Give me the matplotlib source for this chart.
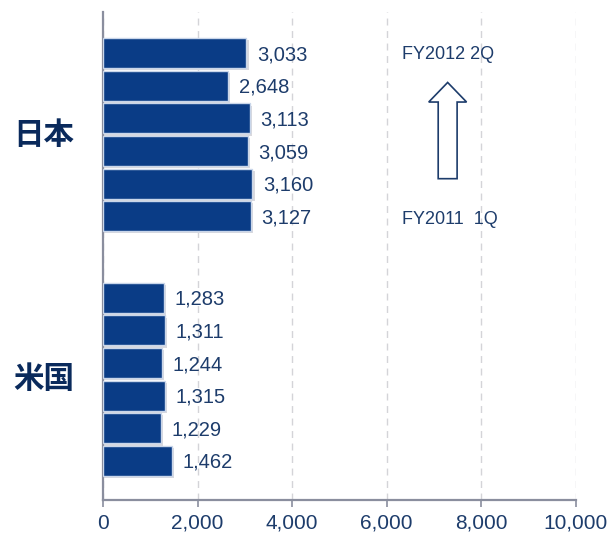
import matplotlib.pyplot as plt
from matplotlib.patches import FancyArrow

plt.rcParams['font.family'] = ['Liberation Sans', 'Noto Sans CJK JP', 'DejaVu Sans']

groups = ["日本", "米国"]
japan = [3033, 2648, 3113, 3059, 3160, 3127]  # top = FY2012 2Q, bottom = FY2011 1Q
usa = [1283, 1311, 1244, 1315, 1229, 1462]
xticks = [0, 2000, 4000, 6000, 8000, 10000]

navy = "#0a3c86"
text_col = "#1d3c6b"
axis_col = "#8a8e9e"

fig = plt.figure(figsize=(6.08, 5.36), dpi=100)
ax = fig.add_axes([0.1694, 0.0672, 0.7776, 0.9104])

# positions: each group of six, gap of 2.5 slots between groups
pos_jp = list(range(len(japan)))
pos_us = [p + len(japan) + 1.5 for p in range(len(usa))]

for pos, vals in [(pos_jp, japan), (pos_us, usa)]:
    # soft shadow
    ax.barh([p + 0.07 for p in pos], [v + 45 for v in vals], height=0.92,
            color="#d9d9de", linewidth=0, zorder=2)
    ax.barh(pos, vals, height=0.92, color=navy, edgecolor="#c9d6ea", linewidth=1.0, zorder=3)
    for p, v in zip(pos, vals):
        ax.text(v + 220, p + 0.05, f"{v:,}", va="center", ha="left",
                fontsize=14.5, color=text_col, zorder=4)

ax.set_xlim(0, 10000)
ax.set_ylim(pos_us[-1] + 1.2, -1.26)

ax.set_xticks(xticks)
ax.set_xticklabels([f"{t:,}" for t in xticks], fontsize=15, color=text_col)
ax.set_yticks([])
ax.tick_params(axis="x", direction="out", length=5, width=1.2, color=axis_col, pad=5)

ax.grid(axis="x", linestyle=(0, (5, 4)), color="#d4d4d8", linewidth=1.0, zorder=0)

for s in ["top", "right"]:
    ax.spines[s].set_visible(False)
for s in ["left", "bottom"]:
    ax.spines[s].set_color(axis_col)
    ax.spines[s].set_linewidth(1.6)

# group labels
for name, pos in [(groups[0], pos_jp), (groups[1], pos_us)]:
    ax.text(-0.125, (pos[0] + pos[-1]) / 2, name, transform=ax.get_yaxis_transform(),
            ha="center", va="center", fontsize=22, fontweight="bold", color="#0a2a5c",
            family=["Noto Sans CJK JP"])

# period arrow
ax.text(7300, pos_jp[0] + 0.05, "FY2012 2Q", ha="center", va="center", fontsize=13, color=text_col)
ax.text(7330, pos_jp[-1] + 0.1, "FY2011  1Q", ha="center", va="center", fontsize=13, color=text_col)
arrow = FancyArrow(7290, 3.85, 0, -2.95, width=400, head_width=800, head_length=0.6,
                   length_includes_head=True, facecolor="white", edgecolor="#1d3c6b",
                   linewidth=1.2, zorder=5)
ax.add_patch(arrow)

fig.savefig("out.png", dpi=100)
